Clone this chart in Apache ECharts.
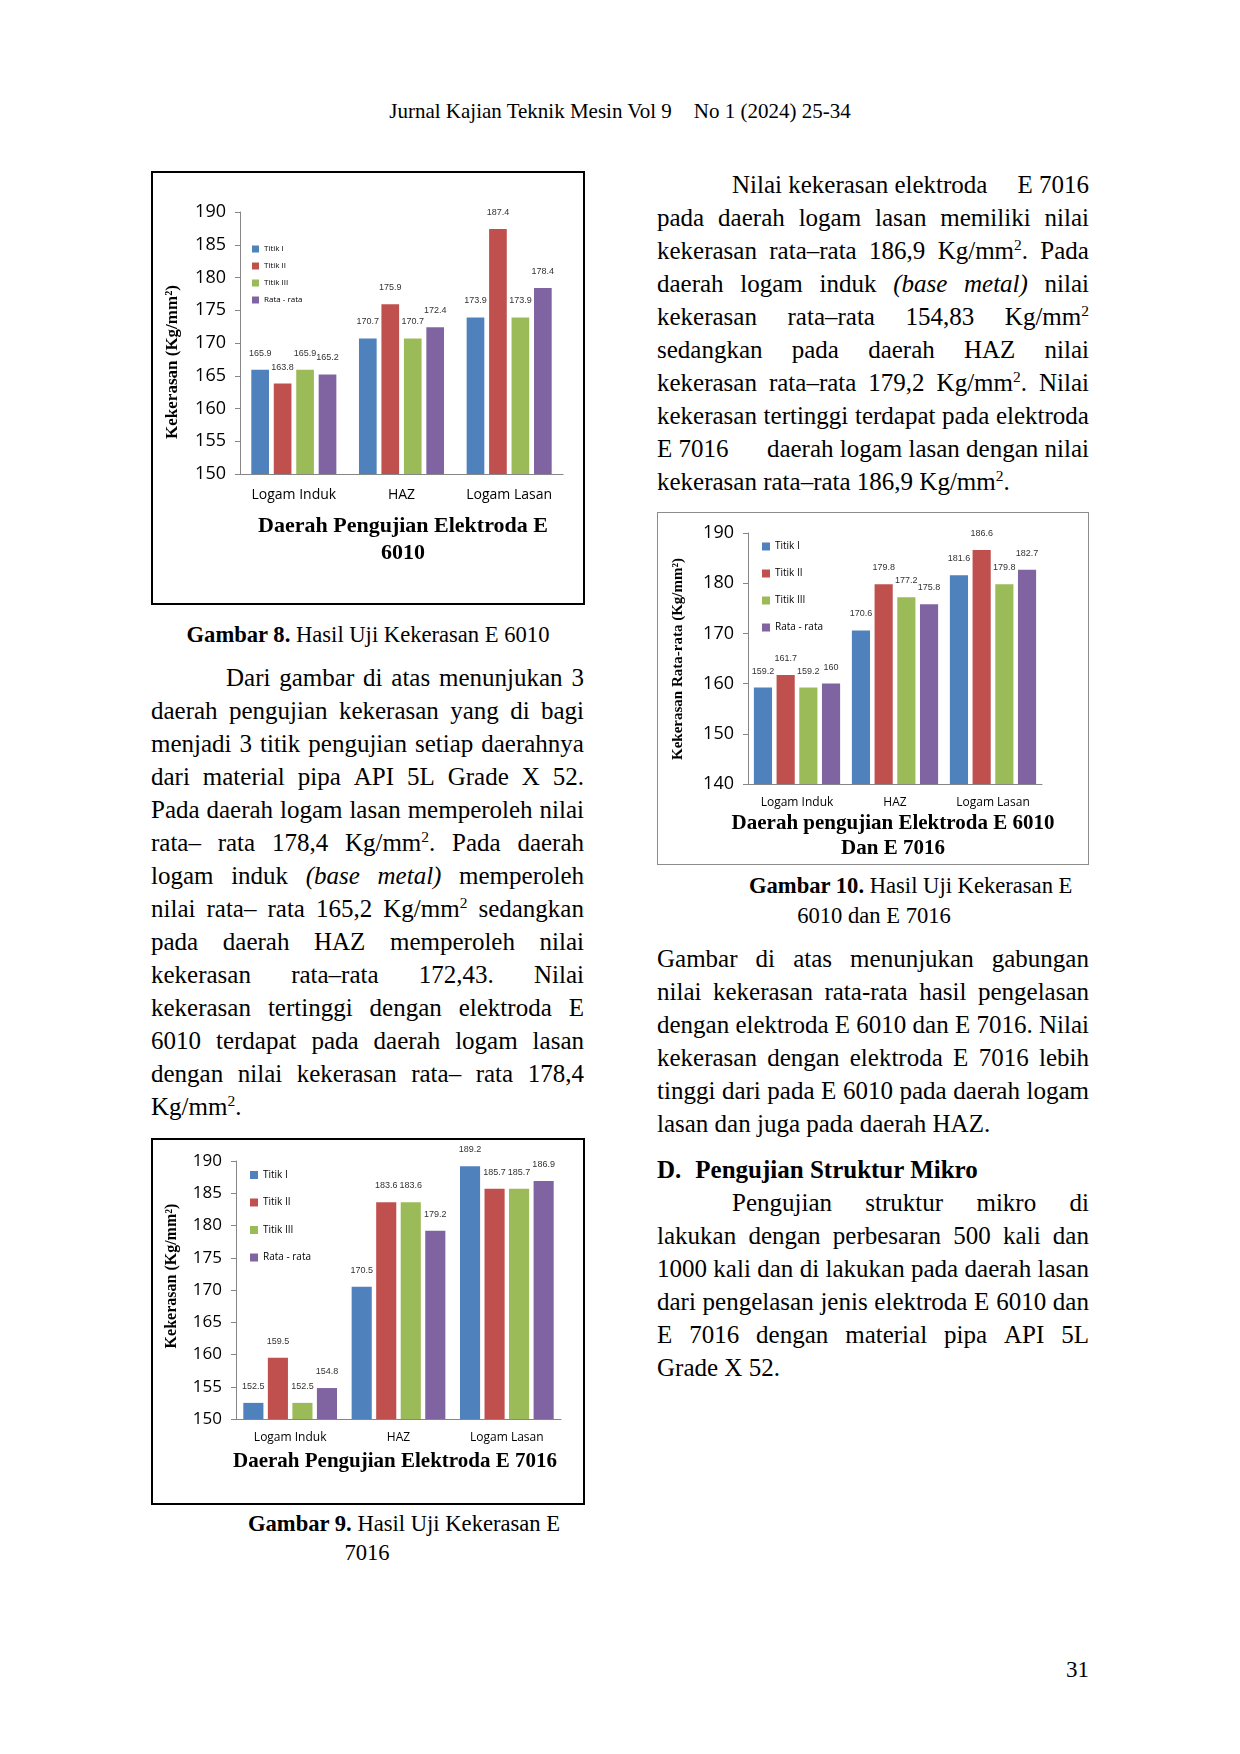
<!DOCTYPE html>
<html><head><meta charset="utf-8">
<script src="https://cdn.jsdelivr.net/npm/echarts@6/dist/echarts.min.js"></script>
<style>
html,body{margin:0;padding:0;background:#fff;}
#page{position:relative;width:1240px;height:1754px;background:#fff;font-family:"Liberation Serif","Times New Roman",serif;color:#000;overflow:hidden;}
.ln{position:absolute;height:33px;line-height:33px;font-size:25px;white-space:nowrap;display:flex;align-items:center;}
.ln.j{justify-content:space-between;}
.ln span{white-space:pre;}
sup{font-size:0.62em;line-height:0;vertical-align:0.55em;}
.box{position:absolute;box-sizing:border-box;pointer-events:none;}
.chart{position:absolute;}
.cap{position:absolute;font-size:22.6px;height:30px;line-height:30px;white-space:nowrap;}
</style></head><body><div id="page"></div>
<script>
// ---------- data ----------
const categories = ['Logam Induk', 'HAZ', 'Logam Lasan'];
const seriesNames = ['Titik I', 'Titik II', 'Titik III', 'Rata - rata'];

// Gambar 8 : E 6010
const e6010_titik1 = [165.9, 170.7, 173.9];
const e6010_titik2 = [163.8, 175.9, 187.4];
const e6010_titik3 = [165.9, 170.7, 173.9];
const e6010_rata   = [165.2, 172.4, 178.4];
const e6010_yTicks = { min: 150, max: 190, interval: 5 };

// Gambar 9 : E 7016
const e7016_titik1 = [152.5, 170.5, 189.2];
const e7016_titik2 = [159.5, 183.6, 185.7];
const e7016_titik3 = [152.5, 183.6, 185.7];
const e7016_rata   = [154.8, 179.2, 186.9];
const e7016_yTicks = { min: 150, max: 190, interval: 5 };

// Gambar 10 : E 6010 dan E 7016
const gab_titik1 = [159.2, 170.6, 181.6];
const gab_titik2 = [161.7, 179.8, 186.6];
const gab_titik3 = [159.2, 177.2, 179.8];
const gab_rata   = [160, 175.8, 182.7];
const gab_yTicks = { min: 140, max: 190, interval: 10 };

const COLORS = ['#4F81BD', '#C0504D', '#9BBB59', '#8064A2'];

// ---------- page text ----------
const page = document.getElementById('page');
function addLine(x, yc, w, html, justify) {
  const d = document.createElement('div');
  d.className = 'ln' + (justify ? ' j' : '');
  d.style.left = x + 'px'; d.style.top = (yc - 16.5) + 'px'; d.style.width = w + 'px';
  if (justify) {
    html.split(' ').forEach(t => { const s = document.createElement('span'); s.innerHTML = t; d.appendChild(s); });
  } else d.innerHTML = '<span>' + html + '</span>';
  page.appendChild(d);
}
function para(x, y0, w, lines, indent) {
  lines.forEach((l, i) => {
    const ind = i === 0 ? indent : 0;
    addLine(x + ind, y0 + i * 33, w - ind, l, i < lines.length - 1);
  });
}
function cap(html, yc, left, center) {
  const d = document.createElement('div'); d.className = 'cap';
  d.style.top = (yc - 15) + 'px';
  if (center !== undefined) { d.style.left = (center - 200) + 'px'; d.style.width = '400px'; d.style.textAlign = 'center'; }
  else d.style.left = left + 'px';
  d.innerHTML = html; page.appendChild(d);
}
const KG = 'Kg/mm<sup>2</sup>';

// header
(function(){ const d = document.createElement('div');
  d.style.cssText = 'position:absolute;left:0;width:1240px;top:97px;height:28px;line-height:28px;font-size:21px;text-align:center;white-space:nowrap;';
  d.innerHTML = 'Jurnal Kajian Teknik Mesin Vol 9<span style="display:inline-block;width:22px"></span>No 1 (2024) 25-34';
  page.appendChild(d); })();

const leftPara = [
  'Dari gambar di atas menunjukan 3',
  'daerah pengujian kekerasan yang di bagi',
  'menjadi 3 titik pengujian setiap daerahnya',
  'dari material pipa API 5L Grade X 52.',
  'Pada daerah logam lasan memperoleh nilai',
  'rata– rata 178,4 ' + KG + '. Pada daerah',
  'logam induk <i>(base</i> <i>metal)</i> memperoleh',
  'nilai rata– rata 165,2 ' + KG + ' sedangkan',
  'pada daerah HAZ memperoleh nilai',
  'kekerasan rata–rata 172,43. Nilai',
  'kekerasan tertinggi dengan elektroda E',
  '6010 terdapat pada daerah logam lasan',
  'dengan nilai kekerasan rata– rata 178,4',
  KG + '.'
];
const rightPara1 = [
  'Nilai&nbsp;kekerasan&nbsp;elektroda E&nbsp;7016',
  'pada daerah logam lasan memiliki nilai',
  'kekerasan rata–rata 186,9 ' + KG + '. Pada',
  'daerah logam induk <i>(base</i> <i>metal)</i> nilai',
  'kekerasan rata–rata 154,83 ' + KG,
  'sedangkan pada daerah HAZ nilai',
  'kekerasan rata–rata 179,2 ' + KG + '. Nilai',
  'kekerasan tertinggi terdapat pada elektroda',
  'E&nbsp;7016 daerah&nbsp;logam&nbsp;lasan&nbsp;dengan&nbsp;nilai',
  'kekerasan rata–rata 186,9 ' + KG + '.'
];
const rightPara2 = [
  'Gambar di atas menunjukan gabungan',
  'nilai kekerasan rata-rata hasil pengelasan',
  'dengan elektroda E 6010 dan E 7016. Nilai',
  'kekerasan dengan elektroda E 7016 lebih',
  'tinggi dari pada E 6010 pada daerah logam',
  'lasan dan juga pada daerah HAZ.'
];
const rightPara3 = [
  'Pengujian struktur mikro di',
  'lakukan dengan perbesaran 500 kali dan',
  '1000 kali dan di lakukan pada daerah lasan',
  'dari pengelasan jenis elektroda E 6010 dan',
  'E 7016 dengan material pipa API 5L',
  'Grade X 52.'
];
const LX = 151, LW = 433, RX = 657, RW = 432;
para(LX, 677.5, LW, leftPara, 75);
para(RX, 184, RW, rightPara1, 75);
para(RX, 958, RW, rightPara2, 0);
addLine(RX, 1169, RW, '<b>D.<span style="display:inline-block;width:14px"></span>Pengujian Struktur Mikro</b>', false);
para(RX, 1202, RW, rightPara3, 75);

cap('<b>Gambar 8.</b> Hasil Uji Kekerasan E 6010', 635, null, 368);
cap('<b>Gambar 9.</b> Hasil Uji Kekerasan E', 1524, 248);
cap('7016', 1553, null, 367);
cap('<b>Gambar 10.</b> Hasil Uji Kekerasan E', 886, 749);
cap('6010 dan E 7016', 916, null, 874);
(function(){ const d = document.createElement('div');
  d.style.cssText = 'position:absolute;left:989px;width:100px;top:1655px;height:30px;line-height:30px;font-size:23px;text-align:right;';
  d.textContent = '31'; page.appendChild(d); })();

// ---------- charts ----------
function makeChart(x, y, w, h, borderCss, option) {
  const c = document.createElement('div'); c.className = 'chart';
  c.style.cssText += `left:${x}px;top:${y}px;width:${w}px;height:${h}px;`;
  page.appendChild(c);
  const b = document.createElement('div'); b.className = 'box';
  b.style.cssText += `left:${x}px;top:${y}px;width:${w}px;height:${h}px;border:${borderCss};`;
  page.appendChild(b);
  const ch = echarts.init(c, null, { renderer: 'canvas' });
  ch.setOption(option);
}

function barOption(cfg) {
  const series = cfg.data.map((d, i) => ({
    name: seriesNames[i], type: 'bar', data: d,
    barGap: cfg.barGap, barCategoryGap: cfg.barCategoryGap,
    itemStyle: { color: COLORS[i] },
    label: { show: true, position: 'top', distance: 12, fontFamily: 'Liberation Sans', fontSize: 9, color: '#333' }
  }));
  const graphic = cfg.titleLines.map((t, i) => ({
    type: 'text', x: cfg.titleX, y: cfg.titleY + i * cfg.titleLH,
    style: { text: t, fontFamily: 'Liberation Serif', fontWeight: 'bold', fontSize: cfg.titleSize, fill: '#000', align: 'center', verticalAlign: 'middle' }
  }));
  graphic.push({
    type: 'text', x: cfg.yTitleX, y: cfg.yTitleY, rotation: Math.PI / 2,
    style: { text: cfg.yTitle, fontFamily: 'Liberation Serif', fontWeight: 'bold', fontSize: cfg.yTitleSize, fill: '#000', align: 'center', verticalAlign: 'middle' }
  });
  return {
    animation: false,
    grid: cfg.grid,
    legend: {
      orient: 'vertical', left: cfg.legendLeft, top: cfg.legendTop, padding: 0,
      itemWidth: cfg.legendMark, itemHeight: cfg.legendMark, itemGap: cfg.legendGap, icon: 'rect',
      textStyle: { fontFamily: 'Open Sans', fontSize: cfg.legendFont, lineHeight: cfg.legendLH, color: '#000' },
      data: seriesNames
    },
    xAxis: {
      type: 'category', data: categories,
      axisLine: { lineStyle: { color: '#868686', width: 1 } },
      axisTick: { show: false },
      axisLabel: { interval: 0, fontFamily: 'Open Sans', fontSize: cfg.catFont, color: '#000', margin: cfg.catMargin }
    },
    yAxis: {
      type: 'value', min: cfg.ticks.min, max: cfg.ticks.max, interval: cfg.ticks.interval,
      axisLine: { show: true, lineStyle: { color: '#868686', width: 1 } },
      axisTick: { show: true, length: 5, lineStyle: { color: '#868686' } },
      splitLine: { show: false },
      axisLabel: { fontFamily: 'Open Sans', fontSize: cfg.tickFont, color: '#000', margin: 14 }
    },
    series, graphic
  };
}

// Gambar 8
makeChart(151, 171, 434, 434, '2px solid #000', barOption({
  data: [e6010_titik1, e6010_titik2, e6010_titik3, e6010_rata], ticks: e6010_yTicks,
  grid: { left: 89, right: 22, top: 41, bottom: 131 },
  barGap: '27%', barCategoryGap: '21%',
  legendLeft: 101, legendTop: 73, legendMark: 7, legendGap: 7, legendFont: 8, legendLH: 10,
  catFont: 14, catMargin: 14, tickFont: 18,
  titleLines: ['Daerah Pengujian Elektroda E', '6010'], titleX: 252, titleY: 355, titleLH: 27, titleSize: 22,
  yTitle: 'Kekerasan (Kg/mm²)', yTitleX: 22, yTitleY: 191, yTitleSize: 17
}));

// Gambar 10
makeChart(657, 512, 432, 353, '1.5px solid #8c8c8c', barOption({
  data: [gab_titik1, gab_titik2, gab_titik3, gab_rata], ticks: gab_yTicks,
  grid: { left: 91, right: 47, top: 21, bottom: 81 },
  barGap: '25%', barCategoryGap: '12%',
  legendLeft: 105, legendTop: 28.5, legendMark: 8, legendGap: 15, legendFont: 10, legendLH: 12,
  catFont: 12, catMargin: 13, tickFont: 18,
  titleLines: ['Daerah pengujian Elektroda E 6010', 'Dan E 7016'], titleX: 236, titleY: 312, titleLH: 25, titleSize: 21,
  yTitle: 'Kekerasan Rata-rata (Kg/mm²)', yTitleX: 21, yTitleY: 147, yTitleSize: 15
}));

// Gambar 9
makeChart(151, 1138, 434, 367, '2px solid #000', barOption({
  data: [e7016_titik1, e7016_titik2, e7016_titik3, e7016_rata], ticks: e7016_yTicks,
  grid: { left: 85, right: 24, top: 23, bottom: 86 },
  barGap: '22%', barCategoryGap: '13.5%',
  legendLeft: 99, legendTop: 31, legendMark: 8, legendGap: 15.5, legendFont: 10, legendLH: 12,
  catFont: 12, catMargin: 13, tickFont: 17,
  titleLines: ['Daerah Pengujian Elektroda E 7016'], titleX: 244, titleY: 324, titleLH: 25, titleSize: 21,
  yTitle: 'Kekerasan (Kg/mm²)', yTitleX: 21, yTitleY: 138, yTitleSize: 16
}));
</script></body></html>
